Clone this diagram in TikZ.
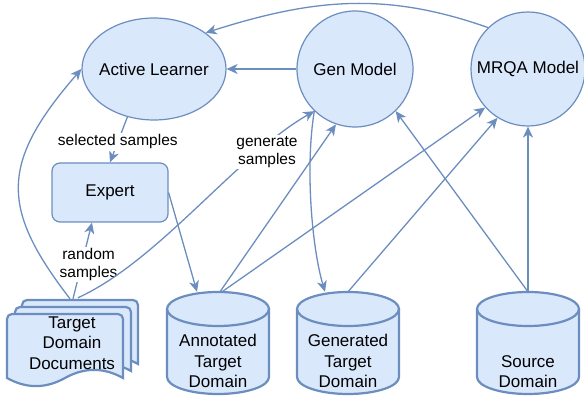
\documentclass[tikz,border=0pt]{standalone}
\usepackage{fontspec}
\setmainfont{Liberation Sans}
\usetikzlibrary{arrows.meta,calc,shapes.geometric}
\definecolor{boxfill}{HTML}{DAE8FC}
\definecolor{boxline}{HTML}{6C8EBF}

\newcommand\dbcyl[4]{% #1 name, #2 x centre, #3 text, #4 text y
  \fill[boxfill] (#2-51,89) -- (#2-51,21) arc[start angle=180,end angle=360,x radius=51,y radius=17] -- (#2+51,89) arc[start angle=0,end angle=180,x radius=51,y radius=17] -- cycle;
  \draw[boxline, line width=2.2pt] (#2,89) ellipse[x radius=51, y radius=17];
  \draw[boxline, line width=2.2pt] (#2-51,89) -- (#2-51,21) arc[start angle=180,end angle=360,x radius=51,y radius=17] -- (#2+51,89);
  \node[area, minimum width=102pt, minimum height=102pt] (#1) at (#2,55) {};
  \node[txt] (#1-text) at (#2,#4) {#3};
}
\newcommand\docpage[2]{%
  \draw[thickshape, shift={(#1,#2)}] (7,20) -- (7,79) arc[start angle=180,end angle=90,radius=5] -- (118,84) arc[start angle=90,end angle=0,radius=5] -- (123,20) .. controls (103.67,30.8) and (84.33,30.8) .. (65,20) .. controls (45.67,9.2) and (26.33,9.2) .. (7,20) -- cycle;
}

\begin{document}
\begin{tikzpicture}[x=1pt,y=1pt,
  shapebase/.style={draw=boxline, fill=boxfill, line width=1.2pt, inner sep=0pt},
  ellnode/.style={shapebase, ellipse, minimum width=144pt, minimum height=102pt},
  circnode/.style={shapebase, circle, minimum size=116pt},
  boxnode/.style={shapebase, rectangle, rounded corners=8pt, minimum width=116pt, minimum height=59pt},
  txt/.style={inner sep=0pt, font=\fontsize{17}{20.5}\selectfont, align=center},
  area/.style={inner sep=0pt, draw=none},
  lbl/.style={fill=white, inner sep=1.5pt, font=\fontsize{15.5}{18.5}\selectfont, align=center},
  conn/.style={draw=boxline, line width=1.3pt, -{Stealth[length=11pt,width=10pt,inset=3.2pt]}},
  thickshape/.style={draw=boxline, fill=boxfill, line width=2.2pt},
]
\useasboundingbox (0,0) rectangle (584,398);

% main shapes
\node[ellnode] (al) at (154,329) {};
\node[txt] (al-text) at (al) {Active Learner};
\node[circnode] (gen) at (355,329) {};
\node[txt] (gen-text) at (gen) {Gen Model};
\node[circnode, minimum size=114pt] (mrqa) at (528,329) {};
\node[txt] (mrqa-text) at (mrqa) {MRQA Model};
\node[boxnode] (expert) at (110,205.5) {};
\node[txt] (expert-text) at (expert) {Expert};

% documents
\docpage{15}{14}
\docpage{8}{7}
\docpage{0}{0}
\node[txt, minimum width=130pt, minimum height=86pt] (docs) at (72,55) {Target\\Domain\\Documents};

% cylinders
\dbcyl{ann}{218}{Annotated\\Target\\Domain}{37}
\dbcyl{gend}{348}{Generated\\Target\\Domain}{37}
\dbcyl{src}{528}{Source\\Domain}{26.5}

% connectors
\draw[conn] (mrqa.134) .. controls (387,406) and (315,400) .. (al.35);
\draw[conn] (gen.west) -- (al.east);
\draw[conn] (al.241) -- node[lbl,pos=0.55]{selected samples} (expert.north);
\draw[conn] ($(docs.north)+(1,1)$) -- node[lbl,pos=0.45,xshift=7pt]{random\\samples} ($(expert.south)+(-18,0)$);
\draw[conn] ($(docs.north)+(-2,1)$) .. controls (0,190) and (0,235) .. (al.west);
\draw[conn] ($(docs.north)+(6,2)$) .. controls (160,138) and (236,242) .. (gen.226);
\node[lbl] (genlbl) at (267,246) {generate\\samples};
\draw[conn] (expert.east) -- ($(ann.north)+(-21,0)$);
\draw[conn] ($(ann.north)+(2,0)$) -- (gen.251);
\draw[conn] ($(ann.north)+(4,0)$) -- (mrqa.222);
\draw[conn] (gen.226) .. controls (305,230) and (312,150) .. ($(gend.north)+(-23,0)$);
\draw[conn] (gend.north) -- (mrqa.238);
\draw[conn] (src.north) -- (gen.314);
\draw[conn] (src.north) -- (src.north |- mrqa.south);
\end{tikzpicture}
\end{document}
